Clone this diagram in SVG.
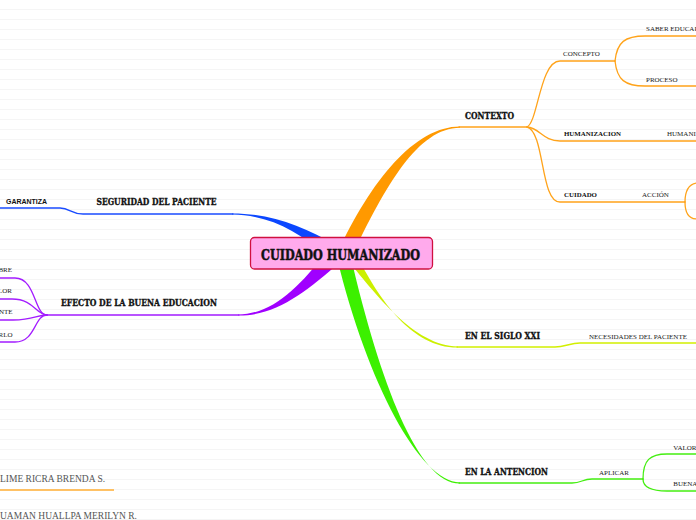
<svg xmlns="http://www.w3.org/2000/svg" width="696" height="520" viewBox="0 0 696 520">
<defs>
<pattern id="bg" width="696" height="10" patternUnits="userSpaceOnUse">
<rect width="696" height="10" fill="#ffffff"/>
<line x1="0" y1="9.5" x2="696" y2="9.5" stroke="#f5f5f5" stroke-width="1"/>
</pattern>
<style>
.main{font-family:"DejaVu Serif","Liberation Serif",serif;font-weight:bold;font-size:9.5px;fill:#111;stroke:#111;stroke-width:0.35px}
.sub{font-family:"Liberation Serif","Times New Roman",serif;font-size:7px;fill:#222}
.subb{font-family:"Liberation Serif","Times New Roman",serif;font-size:7px;font-weight:bold;fill:#111}
.sans{font-family:"Liberation Sans",Arial,sans-serif;font-size:7px;font-weight:bold;fill:#111}
.name{font-family:"Liberation Serif","Times New Roman",serif;font-size:9.5px;fill:#555}
.thin{fill:none;stroke-width:1.3;stroke-linecap:round}
.o{stroke:#ffa31a}.b{stroke:#1a4cff}.p{stroke:#a31cff}.y{stroke:#d2ef00}.g{stroke:#44ee11}
</style>
</defs>
<rect width="696" height="520" fill="url(#bg)"/>
<g id="connectors">
<path d="M337,254 C371,180 415,126.4 460,126.4 L460,127.8 C418,128 386,185 352,256 Z" fill="#ff9900"/>
<path d="M338,246 C302,226 272,213.4 232,213.4 L232,214.6 C270,215 300,232 328,258 Z" fill="#0b47ff"/>
<path d="M327,252 C300,285 274,314.4 238,314.4 L238,315.6 C276,316 306,292 340,262 Z" fill="#a000ff"/>
<path d="M346,258 C374,292 414,346.4 458,346.4 L458,347.6 C412,348 380,300 358,258 Z" fill="#ccf000"/>
<path d="M337,258 C367,382 420,482.4 460,482.4 L460,483.6 C418,484 380,382 351,258 Z" fill="#3cf000"/>
<path class="thin o" d="M459,127 L527,127"/>
<path class="thin o" d="M527,127 C538,122 540,61 560,61 L615,61"/>
<path class="thin o" d="M615,61 C617,42 625,36 645,36 L696,36"/>
<path class="thin o" d="M615,61 C617,80 625,86 645,86 L696,86"/>
<path class="thin o" d="M527,127 C540,128 543,141 560,141 L696,141"/>
<path class="thin o" d="M527,127 C545,132 540,202 560,202 L685,202"/>
<path class="thin o" d="M685,202 C685,190 690,184 697,183"/>
<path class="thin o" d="M685,202 C685,214 690,219 697,219"/>
<path class="thin b" d="M233,214 L83,214 C71,214 70,208 60,208 L0,208"/>
<path class="thin p" d="M239,315 L47,315"/>
<path class="thin p" d="M47,315 C34,315 36,278 15,278 L0,278"/>
<path class="thin p" d="M47,315 C36,315 34,299 12,299 L0,299"/>
<path class="thin p" d="M47,315 C36,315 34,320 13,320 L0,320"/>
<path class="thin p" d="M47,315 C34,315 36,342 15,342 L0,342"/>
<path class="thin y" d="M457,347 L555,347 C565,347 570,343 580,343 L696,343"/>
<path class="thin g" d="M459,483 L572,483 C582,483 582,479 592,479 L643,479"/>
<path class="thin g" d="M643,479 C643,460 650,454 667,454 L696,454"/>
<path class="thin g" d="M643,479 C643,486 650,491 667,491 L696,491"/>
<path d="M0,490 L114,490" stroke="#ffae33" stroke-width="1.3" fill="none"/>
</g>
<g id="center">
<rect x="250.5" y="237.5" width="182" height="31.5" rx="4" fill="#ffaaec" stroke="#d01040" stroke-width="1.3"/>
<text x="261" y="259.5" textLength="159" lengthAdjust="spacingAndGlyphs" style="font-family:'DejaVu Serif','Liberation Serif',serif;font-weight:bold;font-size:14.5px;fill:#111;stroke:#111;stroke-width:0.5px">CUIDADO HUMANIZADO</text>
</g>
<g id="contexto"><text class="main" x="465" y="118.5" textLength="49" lengthAdjust="spacingAndGlyphs">CONTEXTO</text></g>
<g id="concepto"><text class="sub" x="563" y="55.7">CONCEPTO</text></g>
<g id="saber"><text class="sub" x="646" y="31">SABER EDUCAR</text></g>
<g id="proceso"><text class="sub" x="646" y="81.7">PROCESO</text></g>
<g id="humanizacion"><text class="subb" x="564" y="135.5" textLength="57" lengthAdjust="spacingAndGlyphs">HUMANIZACION</text></g>
<g id="humani"><text class="sub" x="667" y="135.5">HUMANI</text></g>
<g id="cuidado"><text class="subb" x="564" y="197" textLength="33" lengthAdjust="spacingAndGlyphs">CUIDADO</text></g>
<g id="accion"><text class="sub" x="642" y="197">ACCIÓN</text></g>
<g id="seguridad"><text class="main" x="96.5" y="204.5" textLength="120" lengthAdjust="spacingAndGlyphs">SEGURIDAD DEL PACIENTE</text></g>
<g id="garantiza"><text class="sans" x="6" y="203.5" textLength="41" lengthAdjust="spacingAndGlyphs">GARANTIZA</text></g>
<g id="efecto"><text class="main" x="61" y="305.5" textLength="156" lengthAdjust="spacingAndGlyphs">EFECTO DE LA BUENA EDUCACION</text></g>
<g id="l1"><text class="sub" x="12" y="271.7" text-anchor="end">BRE</text></g>
<g id="l2"><text class="sub" x="12" y="293.3" text-anchor="end">LOR</text></g>
<g id="l3"><text class="sub" x="12.5" y="314.3" text-anchor="end">NTE</text></g>
<g id="l4"><text class="sub" x="12.5" y="336.7" text-anchor="end">RLO</text></g>
<g id="siglo"><text class="main" x="465" y="339" textLength="75" lengthAdjust="spacingAndGlyphs">EN EL SIGLO XXI</text></g>
<g id="necesidades"><text class="sub" x="589" y="338.5" textLength="98" lengthAdjust="spacingAndGlyphs">NECESIDADES DEL PACIENTE</text></g>
<g id="antencion"><text class="main" x="465" y="475" textLength="83" lengthAdjust="spacingAndGlyphs">EN LA ANTENCION</text></g>
<g id="aplicar"><text class="sub" x="599" y="475">APLICAR</text></g>
<g id="valor"><text class="sub" x="673.3" y="450">VALOR</text></g>
<g id="buena"><text class="sub" x="673.3" y="485.7">BUENA</text></g>
<g id="names">
<text class="name" x="0" y="481.7">LIME RICRA BRENDA S.</text>
<text class="name" x="0" y="519.3">UAMAN HUALLPA MERILYN R.</text>
</g>
</svg>
